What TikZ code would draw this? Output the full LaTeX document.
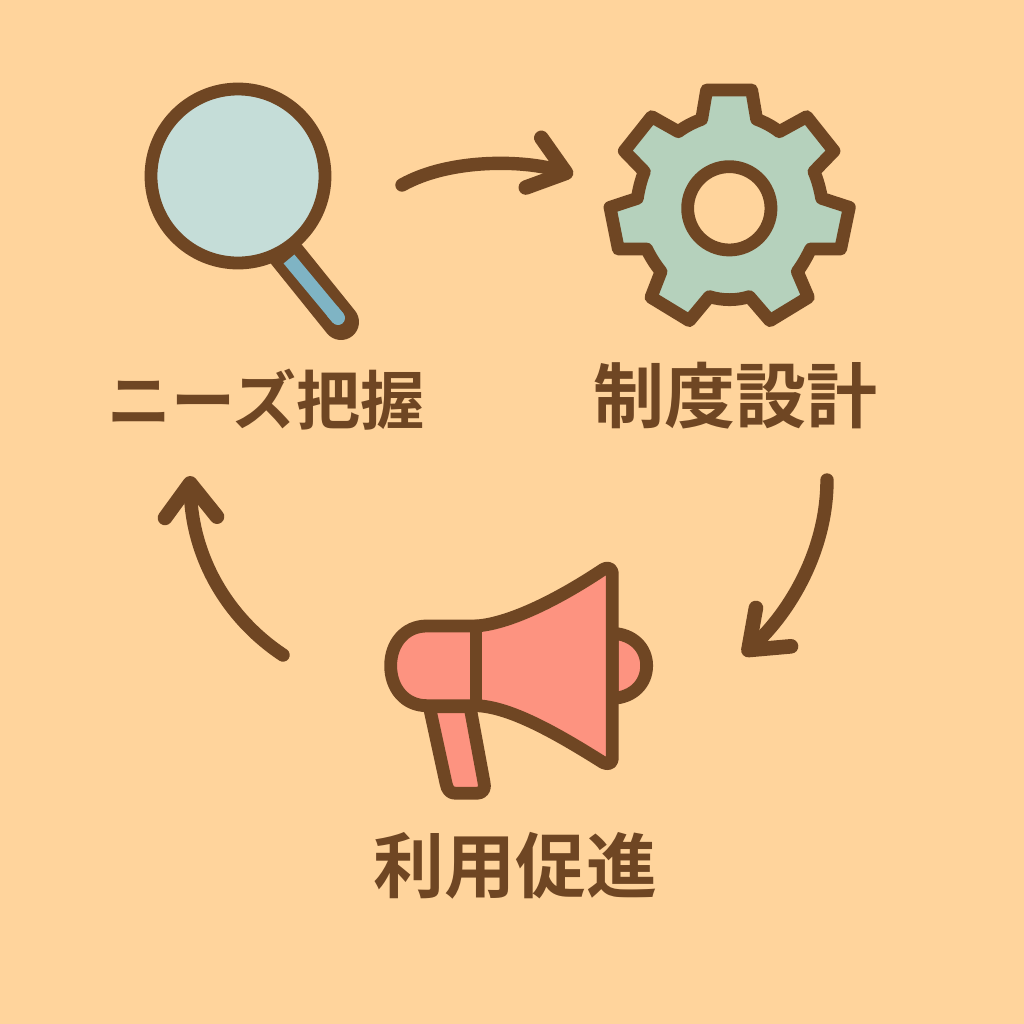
\documentclass[tikz,border=0pt]{standalone}
\usepackage{fontspec}
\usetikzlibrary{arrows.meta}
\newfontfamily\cjk{Noto Sans CJK JP Bold}
\definecolor{bgc}{HTML}{FFD49C}
\definecolor{brn}{HTML}{6F4623}
\definecolor{lens}{HTML}{C5DDD8}
\definecolor{hnd}{HTML}{7FB4C4}
\definecolor{gearc}{HTML}{B5D1BC}
\definecolor{coral}{HTML}{FD9380}
\tikzset{
 icon/.style={draw=brn,line width=6.4pt,line join=round,line cap=round},
 flow/.style={draw=brn,line width=6.7pt,line cap=round,line join=round,
   -{Straight Barb[length=17pt,width=26pt,round,line width=7.3pt]}},
 lab/.style={text=brn,font=\cjk,inner sep=0pt,anchor=center},
}
\begin{document}
\begin{tikzpicture}[x=0.5pt,y=-0.5pt]
\fill[bgc] (0,0) rectangle (1024,1024);
\useasboundingbox (0,0) rectangle (1024,1024);
% magnifier
\draw[icon,line width=18pt] (283,250) -- (341,322);
\draw[hnd,line width=7pt,line cap=butt] (289,259) -- (338,318);
\draw[hnd,line width=7pt,line cap=round] (333,312) -- (338,318);
\draw[icon,fill=lens] (238,176) circle (87);
% gear
\begin{scope}[shift={(590,70)},x=0.5pt/3,y=-0.5pt/3]
\draw[icon,fill=gearc,even odd rule]
 (350,60)--(485,60)--(500,148) .. controls (525,157) and (548,170) .. (568,185)
 --(650,140)--(732,243)--(672,305) .. controls (683,330) and (690,358) .. (695,385)
 --(778,412)--(752,537)--(662,537) .. controls (650,562) and (637,585) .. (622,605)
 --(655,682)--(540,752)--(478,680) .. controls (440,692) and (398,692) .. (358,680)
 --(298,752)--(183,682)--(213,605) .. controls (197,585) and (182,562) .. (170,537)
 --(85,537)--(60,412)--(142,385) .. controls (146,358) and (153,330) .. (163,305)
 --(103,243)--(185,140)--(265,185) .. controls (285,170) and (310,157) .. (335,148)
 --cycle
 (418,415) circle (125);
\end{scope}
% megaphone
\begin{scope}[shift={(370,550)},x=0.5pt/3,y=-0.5pt/3]
\draw[icon,fill=coral] (727,250) .. controls (790,252) and (830,295) .. (830,347)
  .. controls (830,400) and (790,443) .. (727,445) -- cycle;
\draw[icon,fill=coral] (178,470) -- (228,700) .. controls (232,720) and (240,730) .. (258,730)
  -- (320,730) .. controls (340,730) and (347,715) .. (342,697) -- (300,470) -- cycle;
\draw[icon,fill=coral] (318,228) -- (170,228) .. controls (105,228) and (62,280) .. (62,347)
  .. controls (62,415) and (105,467) .. (170,467) -- (318,467)
  .. controls (420,470) and (560,550) .. (700,638)
  .. controls (715,645) and (727,640) .. (727,625)
  -- (727,70) .. controls (727,55) and (712,50) .. (700,58)
  .. controls (550,158) and (410,222) .. (318,228) -- cycle;
\draw[icon] (318,228) -- (318,467);
\end{scope}
% labels
\node[lab,font=\cjk\fontsize{32}{32}\selectfont] (n1) at (266,400) {ニーズ把握};
\node[lab,font=\cjk\fontsize{35.5}{36}\selectfont] (n2) at (735,396) {制度設計};
\node[lab,font=\cjk\fontsize{35.5}{36}\selectfont] (n3) at (515,866) {利用促進};
% arrows
\coordinate (a1) at (402,185); \coordinate (b1) at (573,175);
\coordinate (a2) at (827,480); \coordinate (b2) at (743,655);
\coordinate (a3) at (283,655); \coordinate (b3) at (190,476);
\draw[flow] (a1) .. controls (450,158) and (525,160) .. (b1);
\draw[flow] (a2) .. controls (827,550) and (790,612) .. (b2);
\draw[flow] (a3) .. controls (230,620) and (192,560) .. (b3);
\end{tikzpicture}
\end{document}
